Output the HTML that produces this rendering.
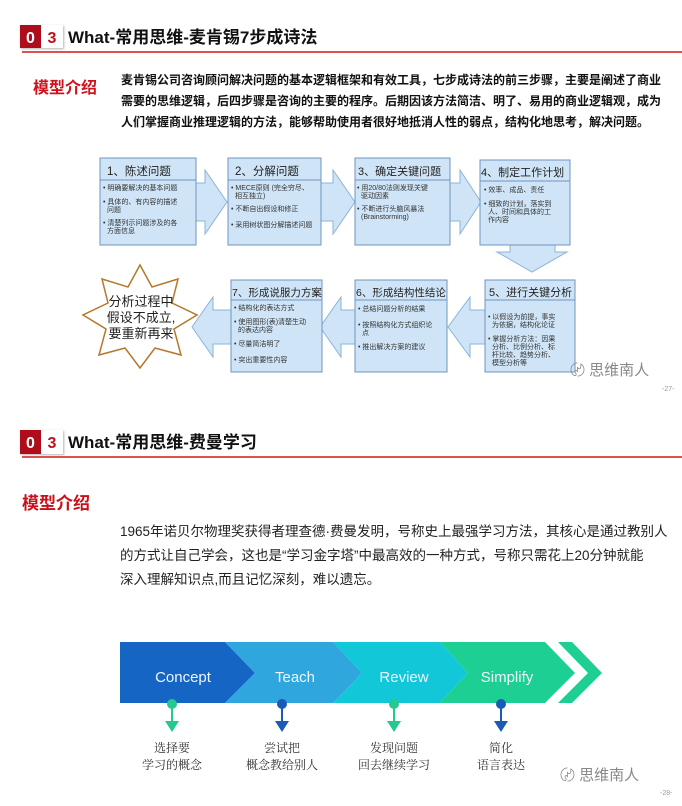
<!DOCTYPE html>
<html><head><meta charset="utf-8"><style>
html,body{margin:0;padding:0;background:#fff;}
svg text{font-family:"Liberation Sans","Noto Sans CJK SC",sans-serif;}
</style></head><body>
<svg width="682" height="801" viewBox="0 0 682 801" xmlns="http://www.w3.org/2000/svg">
<defs>
<filter id="sh" x="-20%" y="-20%" width="140%" height="140%"><feDropShadow dx="1" dy="1" stdDeviation="1" flood-opacity="0.3"/></filter>
</defs>
<!-- Header 1 -->
<rect x="20" y="25" width="21" height="23" fill="#b0101a" filter="url(#sh)"/>
<rect x="41" y="25" width="22" height="23" fill="#fff" filter="url(#sh)"/>
<text x="30.5" y="43" font-size="16" font-weight="bold" fill="#fff" text-anchor="middle">0</text>
<text x="52" y="43" font-size="16" font-weight="bold" fill="#c0101a" text-anchor="middle">3</text>
<text x="68" y="43" font-size="17" font-weight="bold" fill="#111">What-常用思维-麦肯锡7步成诗法</text>
<line x1="22" y1="52" x2="682" y2="52" stroke="#d01818" stroke-width="1.5"/>
<text x="33" y="93" font-size="16" font-weight="bold" fill="#d0101a">模型介绍</text>
<g font-size="12" font-weight="bold" fill="#111">
<text x="121" y="84">麦肯锡公司咨询顾问解决问题的基本逻辑框架和有效工具，七步成诗法的前三步骤，主要是阐述了商业</text>
<text x="121" y="105">需要的思维逻辑，后四步骤是咨询的主要的程序。后期因该方法简洁、明了、易用的商业逻辑观，成为</text>
<text x="121" y="126">人们掌握商业推理逻辑的方法，能够帮助使用者很好地抵消人性的弱点，结构化地思考，解决问题。</text>
</g>
<!-- arrows row1 -->
<g fill="#cfe5f7" stroke="#8ab4d8" stroke-width="1">
<polygon points="190,183 205,183 205,170 227,202 205,234 205,221 190,221"/>
<polygon points="316,183 333,183 333,170 355,202 333,234 333,221 316,221"/>
<polygon points="446,183 460,183 460,170 481,202 460,234 460,221 446,221"/>
<polygon points="510,240 555,240 555,252 567,252 532,272 497,252 510,252"/>
<polygon points="490,310 470,310 470,297 448,327 470,357 470,344 490,344"/>
<polygon points="360,310 341,310 341,297 320,327 341,357 341,344 360,344"/>
<polygon points="232,310 213,310 213,297 192,327 213,357 213,344 232,344"/>
</g>
<!-- boxes -->
<g stroke="#6f95bf" stroke-width="1" fill="#cfe5f7">
<rect x="100" y="158" width="96" height="87"/>
<rect x="228" y="158" width="93" height="87"/>
<rect x="355" y="158" width="95" height="87"/>
<rect x="480" y="160" width="90" height="85"/>
<rect x="231" y="280" width="91" height="92"/>
<rect x="355" y="280" width="92" height="92"/>
<rect x="485" y="280" width="90" height="92"/>
</g>
<g stroke="#6f95bf" stroke-width="1">
<line x1="100" y1="180" x2="196" y2="180"/>
<line x1="228" y1="180" x2="321" y2="180"/>
<line x1="355" y1="180" x2="450" y2="180"/>
<line x1="480" y1="181" x2="570" y2="181"/>
<line x1="231" y1="300" x2="322" y2="300"/>
<line x1="355" y1="300" x2="447" y2="300"/>
<line x1="485" y1="300" x2="575" y2="300"/>
</g>
<g font-size="11.5" fill="#222">
<text x="107" y="175">1、陈述问题</text>
<text x="235" y="175">2、分解问题</text>
<text x="358" y="175" font-size="11">3、确定关键问题</text>
<text x="481" y="176" font-size="11">4、制定工作计划</text>
<text x="232" y="296" font-size="10.5">7、形成说服力方案</text>
<text x="356" y="296" font-size="10.5">6、形成结构性结论</text>
<text x="489" y="296" font-size="11">5、进行关键分析</text>
</g>
<g font-size="7" fill="#333">
<text x="103" y="190">• 明确要解决的基本问题</text>
<text x="103" y="204">• 具体的、有内容的描述</text><text x="107" y="212">问题</text>
<text x="103" y="225">• 清楚列示问题涉及的各</text><text x="107" y="233">方面信息</text>
<text x="231" y="190">• MECE原则 (完全穷尽、</text><text x="235" y="198">相互独立)</text>
<text x="231" y="211">• 不断自出假设和修正</text>
<text x="231" y="227">• 采用树状图分解描述问题</text>
<text x="357" y="190">• 用20/80法则发现关键</text><text x="361" y="198">驱动因素</text>
<text x="357" y="211">• 不断进行头脑风暴法</text><text x="361" y="219">(Brainstorming)</text>
<text x="484" y="192">• 效率、成品、责任</text>
<text x="484" y="206">• 细致的计划，落实到</text><text x="488" y="214">人、时间和具体的工</text><text x="488" y="222">作内容</text>
<text x="234" y="310">• 结构化的表达方式</text>
<text x="234" y="324">• 使用图形(表)清楚生动</text><text x="238" y="332">的表达内容</text>
<text x="234" y="346">• 尽量简洁明了</text>
<text x="234" y="362">• 突出重要性内容</text>
<text x="358" y="311">• 总结问题分析的结果</text>
<text x="358" y="327">• 按照结构化方式组织论</text><text x="362" y="335">点</text>
<text x="358" y="349">• 推出解决方案的建议</text>
<text x="488" y="319">• 以假设为前提，事实</text><text x="492" y="327">为依据，结构化论证</text>
<text x="488" y="341">• 掌握分析方法：因果</text><text x="492" y="349">分析、比例分析、标</text><text x="492" y="357">杆比较、趋势分析、</text><text x="492" y="365">模型分析等</text>
</g>
<!-- star -->
<polygon points="140,265 152,287 178,279 172,303 197,315 174,329 181,355 155,348 140,368 125,348 99,355 106,329 83,315 108,303 102,279 128,287" fill="#fff" stroke="#b5772a" stroke-width="1.5"/>
<g font-size="13" fill="#222" text-anchor="middle">
<text x="141" y="306">分析过程中</text>
<text x="141" y="322">假设不成立,</text>
<text x="141" y="338">要重新再来</text>
</g>
<text x="570" y="375" font-size="15" fill="#888">〄 思维南人</text>
<text x="662" y="391" font-size="7" fill="#999">-27-</text>
<!-- Header 2 -->
<rect x="20" y="430" width="21" height="24" fill="#b0101a" filter="url(#sh)"/>
<rect x="41" y="430" width="22" height="24" fill="#fff" filter="url(#sh)"/>
<text x="30.5" y="448" font-size="16" font-weight="bold" fill="#fff" text-anchor="middle">0</text>
<text x="52" y="448" font-size="16" font-weight="bold" fill="#c0101a" text-anchor="middle">3</text>
<text x="68" y="448" font-size="17" font-weight="bold" fill="#111">What-常用思维-费曼学习</text>
<line x1="22" y1="457" x2="682" y2="457" stroke="#d01818" stroke-width="1.5"/>
<text x="22" y="509" font-size="17" font-weight="bold" fill="#c8101a">模型介绍</text>
<g font-size="13.5" fill="#222">
<text x="120" y="536">1965年诺贝尔物理奖获得者理查德·费曼发明，号称史上最强学习方法，其核心是通过教别人</text>
<text x="120" y="560">的方式让自己学会，这也是“学习金字塔”中最高效的一种方式，号称只需花上20分钟就能</text>
<text x="120" y="584">深入理解知识点,而且记忆深刻，难以遗忘。</text>
</g>
<!-- chevron band -->
<polygon points="120,642 225,642 255,673 225,703 120,703" fill="#1565c4"/>
<polygon points="225,642 333,642 362,673 333,703 225,703 255,673" fill="#2fa6de"/>
<polygon points="333,642 440,642 468,673 440,703 333,703 362,673" fill="#12c7d8"/>
<polygon points="440,642 545,642 575,673 545,703 440,703 468,673" fill="#1dcf92"/>
<polygon points="558,642 572,642 602,673 572,703 558,703 588,673" fill="#1dcf92"/>
<g font-size="15" fill="#eef6ff" text-anchor="middle">
<text x="183" y="682">Concept</text>
<text x="295" y="682">Teach</text>
<text x="404" y="682">Review</text>
<text x="507" y="682">Simplify</text>
</g>
<g>
<circle cx="172" cy="704" r="5" fill="#25c88f"/><line x1="172" y1="704" x2="172" y2="724" stroke="#25c88f" stroke-width="2"/><polygon points="165,721 179,721 172,732" fill="#25c88f"/>
<circle cx="282" cy="704" r="5" fill="#1a5bb5"/><line x1="282" y1="704" x2="282" y2="724" stroke="#1a5bb5" stroke-width="2"/><polygon points="275,721 289,721 282,732" fill="#1a5bb5"/>
<circle cx="394" cy="704" r="5" fill="#25c88f"/><line x1="394" y1="704" x2="394" y2="724" stroke="#25c88f" stroke-width="2"/><polygon points="387,721 401,721 394,732" fill="#25c88f"/>
<circle cx="501" cy="704" r="5" fill="#1a5bb5"/><line x1="501" y1="704" x2="501" y2="724" stroke="#1a5bb5" stroke-width="2"/><polygon points="494,721 508,721 501,732" fill="#1a5bb5"/>
</g>
<g font-size="12" fill="#333" text-anchor="middle" style="font-family:'Noto Serif CJK SC',serif">
<text x="172" y="752" style="font-family:'Noto Serif CJK SC',serif">选择要</text><text x="172" y="769" style="font-family:'Noto Serif CJK SC',serif">学习的概念</text>
<text x="282" y="752" style="font-family:'Noto Serif CJK SC',serif">尝试把</text><text x="282" y="769" style="font-family:'Noto Serif CJK SC',serif">概念教给别人</text>
<text x="394" y="752" style="font-family:'Noto Serif CJK SC',serif">发现问题</text><text x="394" y="769" style="font-family:'Noto Serif CJK SC',serif">回去继续学习</text>
<text x="501" y="752" style="font-family:'Noto Serif CJK SC',serif">简化</text><text x="501" y="769" style="font-family:'Noto Serif CJK SC',serif">语言表达</text>
</g>
<text x="560" y="780" font-size="15" fill="#888">〄 思维南人</text>
<text x="660" y="795" font-size="7" fill="#999">-28-</text>
</svg>
</body></html>
